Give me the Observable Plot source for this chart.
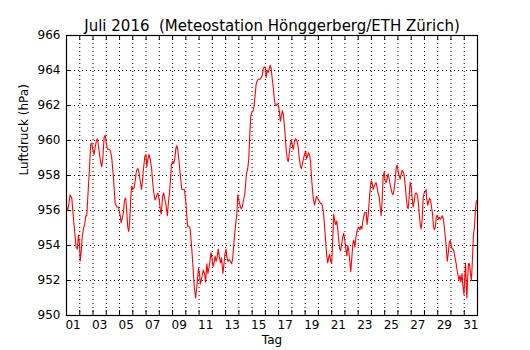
<!DOCTYPE html>
<html><head><meta charset="utf-8">
<script src="https://cdn.jsdelivr.net/npm/d3@7"></script>
<script src="https://cdn.jsdelivr.net/npm/@observablehq/plot@0.6"></script>
<style>
html,body{margin:0;padding:0;background:#fff;}
svg text{white-space:pre;}
</style></head><body><div id="chart"></div>
<script>
const titel = "Juli 2016  (Meteostation Hönggerberg/ETH Zürich)";
const yTitel = "Luftdruck (hPa)";
const xTitel = "Tag";
const labelTage = [1,3,5,7,9,11,13,15,17,19,21,23,25,27,29,31];
const tagLabels = ["01","03","05","07","09","11","13","15","17","19","21","23","25","27","29","31"];
const yTicks = [950,952,954,956,958,960,962,964,966];

// time in days (July d 00:00 = d), pressure in hPa
const zeit = [
1.00,1.07,1.14,1.27,1.40,1.52,1.65,1.72,1.82,1.90,1.98,2.03,2.10,2.18,2.28,2.38,2.45,2.53,2.61,2.71,2.83,2.91,2.98,3.08,3.16,3.26,3.34,3.41,3.49,3.59,3.66,3.74,3.84,3.92,3.99,4.09,4.22,4.32,4.42,4.54,4.67,4.80,4.92,5.05,5.12,5.22,
5.30,5.37,5.47,5.54,5.62,5.70,5.77,5.85,5.92,6.00,6.10,6.18,6.28,6.38,6.46,6.56,6.66,6.73,6.81,6.91,6.99,7.06,7.14,7.22,7.32,7.42,7.49,7.57,7.67,7.75,7.82,7.90,8.00,8.08,8.15,8.25,8.33,8.43,8.53,8.61,8.68,8.76,8.84,8.91,9.01,9.09,9.17,9.24,9.32,9.39,9.49,9.60,9.70,9.80,9.90,
10.03,10.13,10.23,10.33,10.44,10.54,10.64,10.74,10.85,10.95,11.03,11.10,11.21,11.31,11.41,11.49,11.59,11.67,11.74,11.82,11.90,11.97,12.05,12.13,12.21,12.28,12.36,12.44,12.54,12.62,12.69,12.80,12.87,12.95,13.03,13.10,13.18,13.26,13.36,13.46,13.54,13.62,13.69,13.77,13.85,13.92,14.00,14.08,14.18,14.26,14.33,14.44,14.51,
14.57,14.67,14.75,14.82,14.90,14.98,15.08,15.15,15.23,15.30,15.38,15.46,15.53,15.61,15.68,15.76,15.84,15.91,15.99,16.06,16.14,16.22,16.29,16.37,16.44,16.52,16.60,16.67,16.75,16.82,16.90,16.98,17.05,17.13,17.20,17.28,17.35,17.43,17.51,17.58,17.66,17.73,17.81,17.89,17.96,18.04,18.11,18.19,18.27,18.34,18.42,18.49,18.57,18.65,18.72,18.80,18.87,18.95,19.05,
19.10,19.18,19.25,19.33,19.41,19.48,19.56,19.63,19.71,19.79,19.86,19.94,20.01,20.09,20.17,20.24,20.32,20.39,20.47,20.54,20.62,20.70,20.77,20.85,20.92,21.00,21.08,21.15,21.23,21.30,21.38,21.46,21.53,21.61,21.68,21.76,21.84,21.91,21.99,22.06,22.14,22.22,22.29,22.37,22.44,22.52,22.60,22.67,22.75,22.82,22.90,22.98,23.05,23.13,23.20,23.28,23.35,23.43,23.51,
23.60,23.67,23.75,23.82,23.90,23.98,24.05,24.13,24.20,24.28,24.35,24.43,24.50,24.58,24.66,24.73,24.81,24.88,24.96,25.03,25.11,25.18,25.26,25.34,25.41,25.49,25.56,25.64,25.71,25.79,25.86,25.94,26.02,26.09,26.17,26.24,26.32,26.39,26.47,26.54,26.62,26.70,26.77,26.85,26.92,27.00,27.07,27.15,27.22,27.30,27.38,27.45,27.53,27.60,27.68,27.75,27.83,27.90,27.98,28.06,28.13,
28.16,28.24,28.31,28.38,28.46,28.53,28.61,28.68,28.75,28.83,28.90,28.98,29.05,29.12,29.20,29.27,29.35,29.42,29.49,29.57,29.64,29.72,29.79,29.86,29.94,30.01,30.09,30.16,30.24,30.31,30.38,30.46,30.53,30.61,30.68,30.75,30.83,30.90,30.98,31.05,31.10,31.15,31.20,31.25,31.32,31.40,31.47,31.54,31.62,31.69,31.77,31.84,31.91,32.00
];
const druck = [
956.2,956.0,956.2,956.9,956.7,955.6,954.5,953.9,953.8,954.6,954.1,953.1,953.6,954.4,955.0,955.2,955.7,955.7,956.8,958.1,959.8,959.85,959.5,959.2,959.6,960.0,960.1,959.7,959.2,958.7,958.5,959.0,960.2,960.3,959.9,959.5,959.5,959.4,958.95,957.9,956.4,956.2,956.2,955.7,955.3,955.6,
955.9,956.6,956.7,956.0,955.05,954.8,955.4,956.8,957.4,957.2,957.3,957.7,958.3,958.4,958.2,957.7,957.2,957.7,958.4,959.1,959.2,958.5,958.95,959.2,958.9,958.4,957.7,957.1,956.6,956.7,956.9,957.0,956.6,956.0,955.8,956.8,957.0,956.6,956.2,955.7,956.4,956.95,957.7,958.6,958.8,958.7,958.95,959.5,959.7,959.5,958.8,957.9,957.2,957.2,957.2,
956.2,955.1,955.1,954.95,953.9,952.8,951.6,951.0,951.8,952.7,952.4,951.8,952.2,952.6,952.4,951.9,952.95,952.4,952.7,953.1,953.6,953.3,952.8,953.0,953.4,953.1,953.3,953.8,953.3,953.0,953.3,952.4,952.9,953.5,953.8,953.3,953.1,953.2,953.1,952.95,953.3,954.1,954.7,955.3,955.8,956.9,956.6,956.3,956.1,956.2,956.5,956.9,957.5,
958.1,958.4,958.95,960.3,961.4,961.6,961.7,962.0,962.6,963.2,963.4,963.5,963.5,963.5,963.6,963.7,964.1,964.2,964.2,963.6,964.0,963.9,964.1,964.3,964.1,963.5,963.0,962.4,962.0,962.0,962.1,962.0,961.7,961.1,961.4,961.7,961.5,960.9,960.1,959.4,958.9,958.8,959.3,959.8,960.0,959.7,959.5,959.9,960.1,960.05,959.9,959.5,958.9,958.5,958.4,958.7,958.95,959.2,959.4,
958.95,959.1,959.3,959.2,958.8,957.9,957.1,956.6,956.3,956.6,956.8,956.7,956.6,956.5,956.4,956.4,956.2,955.8,955.05,954.3,953.5,953.0,953.3,953.5,953.1,953.0,954.3,955.8,955.4,955.2,955.4,954.95,954.3,953.8,953.7,954.1,954.5,954.7,954.3,953.9,953.4,954.0,953.7,953.1,952.5,953.3,954.1,954.3,953.9,954.4,954.8,954.95,955.05,954.9,955.1,954.95,955.4,955.7,955.9,
955.9,955.2,955.7,956.4,957.2,957.7,957.6,957.2,957.4,957.5,957.6,957.3,957.0,956.8,956.2,955.7,956.6,957.9,958.2,957.7,957.6,957.8,958.1,957.8,957.5,957.2,957.0,956.9,957.2,957.7,958.4,958.6,958.2,958.0,957.8,958.1,958.3,958.2,958.0,957.5,956.8,956.2,956.1,956.8,957.6,957.4,956.7,956.2,956.5,956.95,957.0,956.9,956.5,955.9,955.2,954.95,955.5,956.7,957.0,957.1,957.2,
956.7,956.3,956.5,956.7,956.6,956.2,955.8,955.05,954.9,955.1,955.7,955.7,955.5,955.6,955.5,955.6,955.7,955.5,955.1,954.5,953.9,953.1,953.5,954.1,954.3,954.0,953.8,953.8,953.6,953.3,953.0,952.6,952.3,952.0,952.3,951.9,952.4,951.7,951.2,952.4,953.0,951.6,951.0,952.0,952.95,952.95,952.4,952.0,953.2,954.6,955.05,956.0,956.5,956.6
];

const daten = zeit.map((t, i) => ({t, p: druck[i]}));
const tickTage = d3.range(2, 32);           // day boundaries (midnight)
const gridWerte = yTicks.slice(1, -1);

const W = 530, H = 350, mL = 66, mR = 53, mT = 35, mB = 35;
const fh = H - mT - mB, fw = W - mL - mR;
const tl = 5;

const chart = Plot.plot({
  width: W, height: H,
  marginLeft: mL, marginRight: mR, marginTop: mT, marginBottom: mB,
  style: {fontFamily: "'DejaVu Sans', sans-serif", fontSize: "12px", background: "white", color: "black"},
  x: {type: "linear", domain: [1, 32]},
  y: {type: "linear", domain: [950, 966]},
  marks: [
    Plot.ruleX(tickTage, {x: d => d, stroke: "black", strokeWidth: 1, strokeDasharray: "1,3"}),
    Plot.ruleY(gridWerte, {y: d => d, stroke: "black", strokeWidth: 1, strokeDasharray: "1,3"}),
    Plot.tickX(tickTage, {x: d => d, insetTop: fh - tl, stroke: "black"}),
    Plot.tickX(tickTage, {x: d => d, insetBottom: fh - tl, stroke: "black"}),
    Plot.tickY(gridWerte, {y: d => d, insetRight: fw - tl, stroke: "black"}),
    Plot.tickY(gridWerte, {y: d => d, insetLeft: fw - tl, stroke: "black"}),
    Plot.line(daten, {x: "t", y: "p", stroke: "#ff0000", strokeWidth: 1.1}),
    Plot.frame({stroke: "black", strokeWidth: 1.2}),
    Plot.axisX(labelTage.map(d => d + 0.5), {tickSize: 0, tickPadding: 5, label: null, fontSize: 12,
      tickFormat: d => tagLabels[labelTage.indexOf(Math.round(d - 0.5))]}),
    Plot.axisY(yTicks, {tickSize: 0, tickPadding: 6, label: null, fontSize: 12, tickFormat: d => String(d)}),
    Plot.text([titel], {frameAnchor: "top", dy: -15, fontSize: 15}),
    Plot.text([xTitel], {frameAnchor: "bottom", dy: 28, fontSize: 12}),
    Plot.text([yTitel], {frameAnchor: "left", dx: -42, rotate: -90, fontSize: 12})
  ]
});
document.getElementById("chart").appendChild(chart);
</script></body></html>
